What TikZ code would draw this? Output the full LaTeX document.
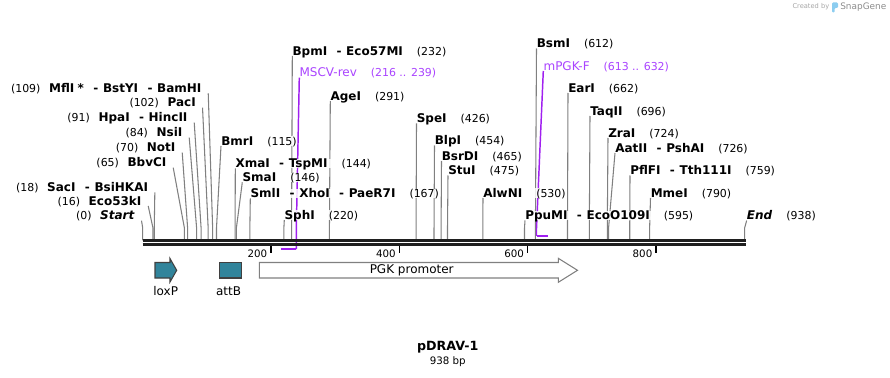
\documentclass[tikz,border=0pt]{standalone}
\usepackage{fontspec}
\setmainfont{DejaVu Sans}
\usepackage{tikz}
\usepackage{xcolor}

\definecolor{featteal}{RGB}{49,132,155}
\definecolor{primerline}{RGB}{160,32,240}
\definecolor{primertext}{RGB}{170,68,255}
\definecolor{cutgray}{RGB}{128,128,128}
\definecolor{logoblue}{RGB}{140,205,240}

\pgfdeclarelayer{bg}
\pgfsetlayers{bg,main}

\newcommand{\enz}[1]{\textbf{#1}}
\newcommand{\enzpos}[1]{\hspace{10.5pt}{\fontsize{8.2}{10}\selectfont(#1)}}
\newcommand{\enzlpos}[1]{{\fontsize{8.2}{10}\selectfont(#1)}\hspace{6.5pt}}
\newcommand{\enzsep}{\hspace{7pt}\textbf{-}\hspace{3.5pt}}

\tikzset{
  cutlabel/.style={anchor=south west, inner xsep=0pt, inner ysep=0pt,
    text height=6.6pt, text depth=0.4pt, fill=white, fill opacity=0.85,
    text opacity=1, font=\fontsize{9}{10}\selectfont},
  cutlabelleft/.style={cutlabel, anchor=south east},
  primerlabel/.style={cutlabel, text=primertext},
  cutline/.style={cutgray, line width=0.8pt},
  primerpath/.style={primerline, line width=1.1pt},
  seqline/.style={black!88, line width=2pt},
  feature/.style={draw=black!75, line width=0.8pt, fill=featteal},
  featlabel/.style={font=\fontsize{9}{10}\selectfont, inner sep=0pt,
    text height=6.6pt, text depth=1.9pt},
}

\begin{document}
\begin{tikzpicture}[x=0.75pt, y=-0.75pt]
    \useasboundingbox (0,0) rectangle (890,378);

    % Siti sulla sequenza
    \foreach \p in {0,16,18,65,70,84,91,102,109,115,144,146,167,220,232,291,426,454,465,475,530,595,612,662,696,724,726,759,790,938}
        \coordinate (s\p) at ({142.7+\p*0.6417},228);
    \coordinate (axL) at (142.7,240.3);
    \coordinate (axR) at (746,240.3);

    % Enzimi a sinistra
    \node[cutlabelleft] (mfl) at (201.7,93.3) {\enzlpos{109}\enz{MflI}\hspace{2.5pt}\enz{*}\enzsep\enz{BstYI}\enzsep\enz{BamHI}};
    \node[cutlabelleft] (pac) at (196,107.7) {\enzlpos{102}\enz{PacI}};
    \node[cutlabelleft] (hpa) at (187.7,122.7) {\enzlpos{91}\enz{HpaI}\enzsep\enz{HincII}};
    \node[cutlabelleft] (nsi) at (182.7,137.7) {\enzlpos{84}\enz{NsiI}};
    \node[cutlabelleft] (noti) at (175.7,152.7) {\enzlpos{70}\enz{NotI}};
    \node[cutlabelleft] (bbv) at (166.7,167.7) {\enzlpos{65}\enz{BbvCI}};
    \node[cutlabelleft] (sac) at (148.3,192.3) {\enzlpos{18}\enz{SacI}\enzsep\enz{BsiHKAI}};
    \node[cutlabelleft] (eco53) at (141.7,206) {\enzlpos{16}\enz{Eco53kI}};
    \node[cutlabelleft] (start) at (135,220.7) {\enzlpos{0}\textbf{\textit{Start}}};

    % Enzimi a destra
    \node[cutlabel] (bmr) at (221,146) {\enz{BmrI}\enzpos{115}};
    \node[cutlabel] (xma) at (235.3,168.3) {\enz{XmaI}\enzsep\enz{TspMI}\enzpos{144}};
    \node[cutlabel] (sma) at (242.3,182.3) {\enz{SmaI}\enzpos{146}};
    \node[cutlabel] (sml) at (250.3,198.3) {\enz{SmlI}\enzsep\enz{XhoI}\enzsep\enz{PaeR7I}\enzpos{167}};
    \node[cutlabel] (sph) at (284.3,220) {\enz{SphI}\enzpos{220}};
    \node[cutlabel] (bpm) at (292.3,56) {\enz{BpmI}\enzsep\enz{Eco57MI}\enzpos{232}};
    \node[cutlabel] (age) at (330.3,101) {\enz{AgeI}\enzpos{291}};
    \node[cutlabel] (spe) at (416.5,123.3) {\enz{SpeI}\enzpos{426}};
    \node[cutlabel] (blp) at (434.5,145.5) {\enz{BlpI}\enzpos{454}};
    \node[cutlabel] (bsr) at (441.5,161) {\enz{BsrDI}\enzpos{465}};
    \node[cutlabel] (stu) at (448,175.5) {\enz{StuI}\enzpos{475}};
    \node[cutlabel] (alw) at (483,198) {\enz{AlwNI}\enzpos{530}};
    \node[cutlabel] (ppu) at (525,220.5) {\enz{PpuMI}\enzsep\enz{EcoO109I}\enzpos{595}};
    \node[cutlabel] (bsm) at (536.5,48.5) {\enz{BsmI}\enzpos{612}};
    \node[cutlabel] (ear) at (568,93) {\enz{EarI}\enzpos{662}};
    \node[cutlabel] (taq) at (590,116) {\enz{TaqII}\enzpos{696}};
    \node[cutlabel] (zra) at (608,138) {\enz{ZraI}\enzpos{724}};
    \node[cutlabel] (aat) at (615,153) {\enz{AatII}\enzsep\enz{PshAI}\enzpos{726}};
    \node[cutlabel] (pfl) at (630,175.5) {\enz{PflFI}\enzsep\enz{Tth111I}\enzpos{759}};
    \node[cutlabel] (mme) at (650.5,198) {\enz{MmeI}\enzpos{790}};
    \node[cutlabel] (endlbl) at (746.7,220.5) {\textbf{\textit{End}}\enzpos{938}};

    % Primer
    \node[primerlabel] (msc) at (299.3,77.7) {MSCV-rev\enzpos{216 .. 239}};
    \node[primerlabel] (mpg) at (543.3,71) {mPGK-F\enzpos{613 .. 632}};
    \coordinate (msc-a) at (296.3,230);
    \coordinate (msc-b) at (296.3,249.2);
    \coordinate (msc-c) at (281,249.2);
    \coordinate (mpg-a) at (536.5,228.5);
    \coordinate (mpg-b) at (536.5,235.8);
    \coordinate (mpg-c) at (548.3,235.8);

    \begin{pgfonlayer}{bg}
        % Linee di taglio
        \draw[cutline] ([xshift=4.9pt]mfl.south east) -- (s109) -- (s109 |- axL);
        \draw[cutline] ([xshift=4.9pt]pac.south east) -- (s102) -- (s102 |- axL);
        \draw[cutline] ([xshift=4.9pt]hpa.south east) -- (s91) -- (s91 |- axL);
        \draw[cutline] ([xshift=4.9pt]nsi.south east) -- (s84) -- (s84 |- axL);
        \draw[cutline] ([xshift=4.9pt]noti.south east) -- (s70) -- (s70 |- axL);
        \draw[cutline] ([xshift=4.9pt]bbv.south east) -- (s65) -- (s65 |- axL);
        \draw[cutline] ([xshift=4.9pt]sac.south east) -- (s18) -- (s18 |- axL);
        \draw[cutline] ([xshift=4.9pt]eco53.south east) -- (s16) -- (s16 |- axL);
        \draw[cutline] ([xshift=4.9pt]start.south east) -- (s0) -- (s0 |- axL);
        \draw[cutline] (bmr.south west) -- (s115) -- (s115 |- axL);
        \draw[cutline] (xma.south west) -- (s144) -- (s144 |- axL);
        \draw[cutline] (sma.south west) -- (s146) -- (s146 |- axL);
        \draw[cutline] (sml.south west) -- (s167) -- (s167 |- axL);
        \draw[cutline] (sph.south west) -- (s220) -- (s220 |- axL);
        \draw[cutline] (bpm.south west) -- (s232) -- (s232 |- axL);
        \draw[cutline] (age.south west) -- (s291) -- (s291 |- axL);
        \draw[cutline] (spe.south west) -- (s426) -- (s426 |- axL);
        \draw[cutline] (blp.south west) -- (s454) -- (s454 |- axL);
        \draw[cutline] (bsr.south west) -- (s465) -- (s465 |- axL);
        \draw[cutline] (stu.south west) -- (s475) -- (s475 |- axL);
        \draw[cutline] (alw.south west) -- (s530) -- (s530 |- axL);
        \draw[cutline] (ppu.south west) -- (s595) -- (s595 |- axL);
        \draw[cutline] (bsm.south west) -- (s612) -- (s612 |- axL);
        \draw[cutline] (ear.south west) -- (s662) -- (s662 |- axL);
        \draw[cutline] (taq.south west) -- (s696) -- (s696 |- axL);
        \draw[cutline] (zra.south west) -- (s724) -- (s724 |- axL);
        \draw[cutline] (aat.south west) -- (s726) -- (s726 |- axL);
        \draw[cutline] (pfl.south west) -- (s759) -- (s759 |- axL);
        \draw[cutline] (mme.south west) -- (s790) -- (s790 |- axL);
        \draw[cutline] (endlbl.south west) -- (s938) -- (s938 |- axL);

        % Primer
        \draw[primerpath] (msc.south west) -- (msc-a) -- (msc-b);
        \draw[primerline, line width=1.9pt] (msc-b) -- (msc-c);
        \draw[primerpath] (mpg.south west) -- (mpg-a) -- (mpg-b);
        \draw[primerline, line width=1.9pt] (mpg-b) -- (mpg-c);
    \end{pgfonlayer}

    % Sequenza
    \draw[seqline] (axL) -- (axR);
    \draw[seqline] ([yshift=-3.15pt]axL) -- ([yshift=-3.15pt]axR);
    \foreach \t in {200,400,600,800} {
        \coordinate (t\t) at ({142.7+\t*0.6417},246);
        \draw[black, line width=1.1pt] (t\t) -- ++(0,7);
        \node[anchor=east, inner sep=0pt, font=\fontsize{7.7}{9}\selectfont] (tl\t) at ({142.7+\t*0.6417-3.5},253.3) {\t};
    }

    % Elementi
    \filldraw[feature] (155,262.5) -- (170,262.5) -- (170,258.5) -- (176.7,270.3) -- (170,282) -- (170,278) -- (155,278) -- cycle;
    \node[featlabel] (loxp) at (165.7,292.2) {loxP};
    \filldraw[feature] (219.3,262.5) rectangle (241.7,278);
    \node[featlabel] (attb) at (228.5,292.2) {attB};
    \filldraw[draw=cutgray, fill=white, line width=0.8pt] (259.3,262.5) -- (558.3,262.5) -- (558.3,258.3) -- (577.5,270.3) -- (558.3,282.3) -- (558.3,278) -- (259.3,278) -- cycle;
    \node[featlabel] (pgk) at (411.7,270.5) {PGK promoter};

    % Titolo
    \node[font=\bfseries\fontsize{9.5}{11}\selectfont] (title) at (447.7,347.5) {pDRAV-1};
    \node[font=\fontsize{7.7}{9}\selectfont] (size) at (447.7,362) {938 bp};

    % Firma
    \node[anchor=east, inner sep=0pt, text=black!35, font=\fontsize{5}{6}\selectfont] (made) at (829.5,7) {Created by};
    \fill[logoblue, rounded corners=0.8pt] (832,2.5) -- (838,2.5) -- (838,8) -- (834.6,8) -- (834.6,12.5) -- (832,12.5) -- cycle;
    \node[anchor=west, inner sep=0pt, text=black!45, font=\fontsize{6.7}{8}\selectfont] (snap) at (840,7) {SnapGene};
\end{tikzpicture}
\end{document}
